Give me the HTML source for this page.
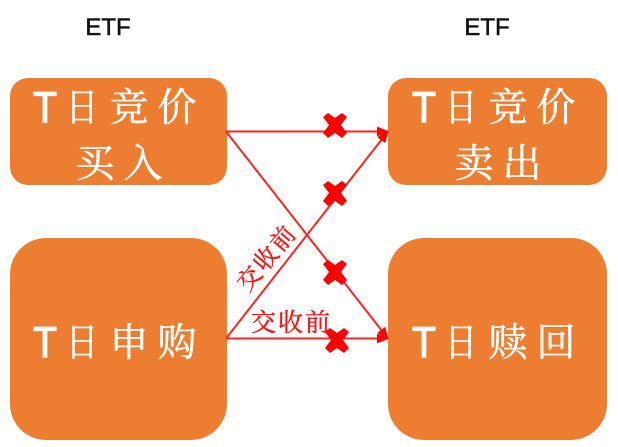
<!DOCTYPE html>
<html><head><meta charset="utf-8"><style>
html,body{margin:0;padding:0;background:#fff}
svg{display:block}
.w{font-family:"Liberation Sans","Noto Serif CJK SC",serif;fill:#fff;font-size:39px;text-anchor:middle;stroke:#fff;stroke-width:.5}
.t{font-family:"Liberation Sans",sans-serif;fill:#fff;font-size:44px;text-anchor:middle;stroke:#fff;stroke-width:1.2}
.e{font-family:"Liberation Sans",sans-serif;fill:#111;font-size:24px;text-anchor:middle;stroke:#111;stroke-width:.5}
.r{font-family:"Liberation Serif","Noto Serif CJK SC",serif;fill:#f11;font-size:25px;letter-spacing:2px;stroke:#f11;stroke-width:.4}
.q{font-family:"Liberation Serif","Noto Serif CJK SC",serif;fill:#f11;font-size:24px;letter-spacing:2px;stroke:#f11;stroke-width:.4}
</style></head><body>
<svg width="618" height="447" viewBox="0 0 618 447" xmlns="http://www.w3.org/2000/svg">
<defs><marker id="a" markerWidth="12" markerHeight="12" refX="11" refY="6" orient="auto" markerUnits="userSpaceOnUse"><path d="M0 1L12 6L0 11Z" fill="#f00"/></marker>
<path id="x" d="M-7-12L0-7L7-12L12-8L6 0L12 8L7 13L0 8L-7 13L-12 8L-6 0L-12-8Z" fill="#f00"/></defs>
<text class="e" x="108" y="35">ETF</text>
<text class="e" x="487" y="35">ETF</text>
<rect x="10" y="78" width="217" height="107" rx="18" fill="#ed7d31"/>
<rect x="388" y="78" width="219" height="107" rx="18" fill="#ed7d31"/>
<rect x="10" y="238" width="217" height="202" rx="36" fill="#ed7d31"/>
<rect x="388" y="238" width="219" height="202" rx="36" fill="#ed7d31"/>
<text class="t" x="45" y="122" textLength="24" lengthAdjust="spacingAndGlyphs">T</text>
<text class="w" x="82" y="121" textLength="32" lengthAdjust="spacingAndGlyphs">日</text><text class="w" x="129" y="121">竞</text><text class="w" x="177" y="121">价</text>
<text class="w" x="95" y="177">买</text><text class="w" x="143" y="177">入</text>
<text class="t" x="424" y="122" textLength="24" lengthAdjust="spacingAndGlyphs">T</text>
<text class="w" x="461" y="121" textLength="32" lengthAdjust="spacingAndGlyphs">日</text><text class="w" x="508" y="121">竞</text><text class="w" x="556" y="121">价</text>
<text class="w" x="474" y="177">卖</text><text class="w" x="522" y="177">出</text>
<text class="t" x="45" y="357" textLength="24" lengthAdjust="spacingAndGlyphs">T</text>
<text class="w" x="82" y="356" textLength="32" lengthAdjust="spacingAndGlyphs">日</text><text class="w" x="129" y="356">申</text><text class="w" x="177" y="356">购</text>
<text class="t" x="424" y="357" textLength="24" lengthAdjust="spacingAndGlyphs">T</text>
<text class="w" x="461" y="356" textLength="32" lengthAdjust="spacingAndGlyphs">日</text><text class="w" x="508" y="356">赎</text><text class="w" x="556" y="356">回</text>
<g stroke="#f22" stroke-width="2" fill="none">
<line x1="226" y1="131.5" x2="388" y2="131.5" marker-end="url(#a)"/>
<line x1="226" y1="131.5" x2="388" y2="338.5" marker-end="url(#a)"/>
<line x1="226" y1="338.5" x2="388" y2="131.5" marker-end="url(#a)"/>
<line x1="226" y1="338.5" x2="388" y2="338.5" marker-end="url(#a)"/>
</g>
<use href="#x" x="335" y="125"/>
<use href="#x" x="335" y="193"/>
<use href="#x" x="335" y="272"/>
<use href="#x" x="337" y="340"/>
<text class="r" x="251" y="331">交收前</text>
<text class="q" transform="translate(248,293) rotate(-50)" x="0" y="0">交收前</text>
</svg>
</body></html>
